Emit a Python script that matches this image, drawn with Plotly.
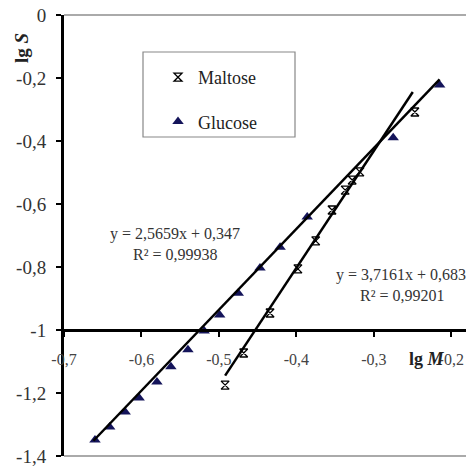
import plotly.graph_objects as go

# ---- data ----
glucose_x = [-0.660, -0.641, -0.621, -0.603, -0.580, -0.562, -0.540, -0.519,
             -0.499, -0.475, -0.447, -0.421, -0.386, -0.275, -0.215]
glucose_y = [-1.349, -1.308, -1.260, -1.216, -1.165, -1.117, -1.063, -1.003,
             -0.952, -0.883, -0.803, -0.737, -0.641, -0.390, -0.222]
maltose_x = [-0.492, -0.468, -0.434, -0.398, -0.375, -0.354, -0.337, -0.328, -0.318, -0.247]
maltose_y = [-1.175, -1.073, -0.946, -0.806, -0.717, -0.619, -0.556, -0.524, -0.498, -0.308]

glucose_fit = (2.5659, 0.347)
maltose_fit = (3.7161, 0.6836)
glucose_fit_x = [-0.662, -0.215]
maltose_fit_x = [-0.492, -0.2497]

x_tickvals = [-0.7, -0.6, -0.5, -0.4, -0.3, -0.2]
x_ticktext = ["-0,7", "-0,6", "-0,5", "-0,4", "-0,3", "-0,2"]
y_tickvals = [0, -0.2, -0.4, -0.6, -0.8, -1.0, -1.2, -1.4]
y_ticktext = ["0", "-0,2", "-0,4", "-0,6", "-0,8", "-1", "-1,2", "-1,4"]

FONT = "Liberation Serif"

fig = go.Figure()

fig.add_trace(go.Scatter(
    x=maltose_x, y=maltose_y, mode="markers", name="Maltose",
    legendgroup="m",
    marker=dict(symbol="hourglass-open", size=8, color="black",
                line=dict(color="black", width=1.3)),
))
fig.add_trace(go.Scatter(
    x=glucose_x, y=glucose_y, mode="markers", name="Glucose",
    legendgroup="g",
    marker=dict(symbol="triangle-up", size=10, color="#14145a",
                line=dict(width=0)),
))

for (a, b), xs in ((glucose_fit, glucose_fit_x), (maltose_fit, maltose_fit_x)):
    fig.add_trace(go.Scatter(
        x=xs, y=[a * v + b for v in xs], mode="lines", showlegend=False,
        line=dict(color="black", width=2.5), hoverinfo="skip",
    ))

fig.update_layout(
    width=466, height=468,
    margin=dict(l=64, r=0, t=15, b=12),
    paper_bgcolor="white", plot_bgcolor="white",
    font=dict(family=FONT, color="#222"),
    showlegend=True,
    legend=dict(x=(158 - 64) / 402, y=1 - (59 - 15) / 441, xanchor="left", yanchor="top",
                bgcolor="rgba(0,0,0,0)", borderwidth=0,
                font=dict(family=FONT, size=18, color="#222"),
                tracegroupgap=18, itemwidth=30),
    xaxis=dict(range=[-0.7, -0.181], anchor="free", position=(-1 + 1.4) / 1.4,
               tickvals=x_tickvals, ticktext=x_ticktext,
               showgrid=False, zeroline=False,
               showline=True, linecolor="black", linewidth=3,
               ticks="outside", ticklen=5, tickwidth=2, tickcolor="black",
               ticklabelstandoff=9,
               tickfont=dict(family=FONT, size=16, color="#444")),
    yaxis=dict(range=[-1.4, 0], tickvals=y_tickvals, ticktext=y_ticktext,
               showgrid=False, zeroline=False,
               showline=True, linecolor="black", linewidth=3,
               ticks="outside", ticklen=5, tickwidth=2, tickcolor="black",
               ticklabelstandoff=6,
               tickfont=dict(family=FONT, size=19, color="#333")),
)

# plot area top / bottom border lines and legend frame
fig.add_shape(type="line", xref="paper", yref="paper", x0=0, x1=1, y0=1, y1=1,
              line=dict(color="#aaaaaa", width=2))
fig.add_shape(type="line", xref="paper", yref="paper", x0=0, x1=1, y0=0, y1=0,
              line=dict(color="#aaaaaa", width=2))
fig.add_shape(type="rect", xref="paper", yref="paper",
              x0=(143 - 64) / 402, x1=(295 - 64) / 402,
              y0=1 - (137 - 15) / 441, y1=1 - (52 - 15) / 441,
              line=dict(color="#888888", width=1.2))

ann_font = dict(family=FONT, size=16, color="#333")
# equations
fig.add_annotation(xref="paper", yref="paper", x=(175 - 64) / 402, y=1 - (234 - 15) / 441,
                   xanchor="center", text="y = 2,5659x + 0,347", showarrow=False, font=ann_font)
fig.add_annotation(xref="paper", yref="paper", x=(175 - 64) / 402, y=1 - (254 - 15) / 441,
                   xanchor="center", text="R² = 0,99938", showarrow=False, font=ann_font)
fig.add_annotation(xref="paper", yref="paper", x=(334 - 64) / 402, y=1 - (275 - 15) / 441,
                   xanchor="left", text="y = 3,7161x + 0,6836", showarrow=False, font=ann_font)
fig.add_annotation(xref="paper", yref="paper", x=(402 - 64) / 402, y=1 - (295 - 15) / 441,
                   xanchor="center", text="R² = 0,99201", showarrow=False, font=ann_font)

# axis titles
fig.add_annotation(xref="paper", yref="paper", x=(427 - 64) / 402, y=1 - (359 - 15) / 441,
                   xanchor="center", yanchor="middle",
                   text="<b>lg <i>M</i></b>", showarrow=False,
                   font=dict(family=FONT, size=18, color="#222"))
fig.add_annotation(xref="paper", yref="paper", x=-(64 - 22) / 402, y=1 - (48 - 15) / 441,
                   xanchor="center", yanchor="middle",
                   text="<b>lg <i>S</i></b>", showarrow=False, textangle=-90,
                   font=dict(family=FONT, size=19, color="#222"))

fig.write_html("out.html", config={"displayModeBar": False},
               post_script="document.body.style.margin='0';document.body.style.overflow='hidden';")
